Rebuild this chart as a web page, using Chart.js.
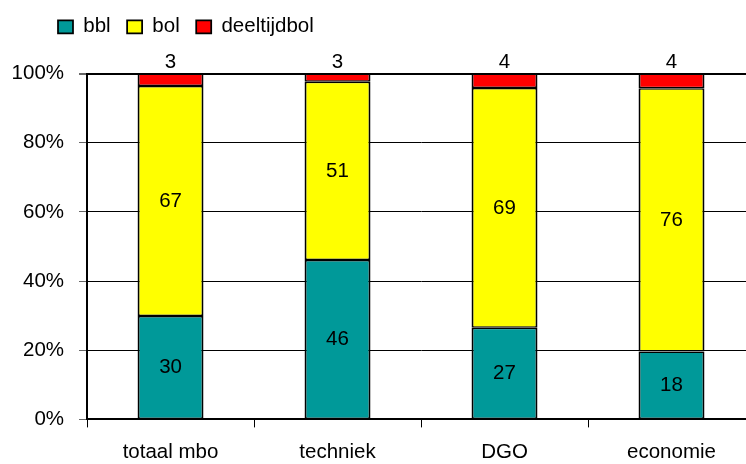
<!DOCTYPE html>
<html>
<head>
<meta charset="utf-8">
<script src="https://cdn.jsdelivr.net/npm/chart.js@4.4.1/dist/chart.umd.min.js"></script>
<style>
  html, body { margin: 0; padding: 0; background: #fff; }
  #wrap { width: 746px; height: 464px; overflow: hidden; }
</style>
</head>
<body>
<div id="wrap"><canvas id="c" width="760" height="464"></canvas></div>
<script>
// ---- data ----
const categories = ['totaal mbo', 'techniek', 'DGO', 'economie'];
const seriesNames = ['bbl', 'bol', 'deeltijdbol'];
// share of each bar (percent)
const bblShare  = [29.9, 46.1, 26.5, 19.6];
const bolShare  = [66.5, 51.5, 69.3, 76.1];
const deelShare = [3.6, 2.4, 4.2, 4.3];
// numbers printed on the bars
const bblLabels  = [30, 46, 27, 18];
const bolLabels  = [67, 51, 69, 76];
const deelLabels = [3, 3, 4, 4];
// y axis ticks
const yTicks = [0, 20, 40, 60, 80, 100];

const FONT = '"Liberation Sans", Arial, sans-serif';
const FS = 20.5;
Chart.defaults.font.family = FONT;
Chart.defaults.font.size = FS;
Chart.defaults.color = '#000';

const barBorder = { left: 2, right: 2, top: 1.5, bottom: 1.5 };

const valueLabels = {
  id: 'valueLabels',
  afterDatasetsDraw(chart) {
    const ctx = chart.ctx;
    ctx.save();
    ctx.font = FS + 'px ' + FONT;
    ctx.fillStyle = '#000';
    ctx.textAlign = 'center';
    ctx.textBaseline = 'middle';
    chart.data.datasets.forEach((ds, di) => {
      const meta = chart.getDatasetMeta(di);
      meta.data.forEach((bar, i) => {
        const txt = String(ds.printed[i]);
        if (ds.labelAbove) {
          ctx.fillText(txt, bar.x, bar.y - 11);
        } else {
          ctx.fillText(txt, bar.x, (bar.y + bar.base) / 2);
        }
      });
    });
    ctx.restore();
  }
};

const legendShift = {
  id: 'legendShift',
  afterLayout(chart) {
    const lg = chart.legend;
    if (!lg) return;
    const pad = lg.options.labels.padding;
    const shift = 58 - (lg.left + pad);
    lg.left += shift;
    lg.right += shift;
  }
};

new Chart(document.getElementById('c'), {
  type: 'bar',
  data: {
    labels: categories,
    datasets: [
      { label: seriesNames[0], data: bblShare, printed: bblLabels, backgroundColor: '#009999',
        borderColor: '#000', borderWidth: barBorder, borderSkipped: false },
      { label: seriesNames[1], data: bolShare, printed: bolLabels, backgroundColor: '#FFFF00',
        borderColor: '#000', borderWidth: barBorder, borderSkipped: false },
      { label: seriesNames[2], data: deelShare, printed: deelLabels, labelAbove: true, backgroundColor: '#FF0000',
        borderColor: '#000', borderWidth: barBorder, borderSkipped: false }
    ]
  },
  options: {
    responsive: false,
    animation: false,
    devicePixelRatio: 1,
    layout: { padding: { left: -3.4, right: 5, top: 0, bottom: -13 } },
    datasets: { bar: { categoryPercentage: 1, barPercentage: 0.395 } },
    plugins: {
      tooltip: { enabled: false },
      legend: {
        position: 'top',
        align: 'start',
        labels: {
          boxWidth: 15, boxHeight: 13, padding: 16.5,
          font: { size: FS, family: FONT }, color: '#000'
        }
      },
      title: {
        display: true, text: '', weight: 500, position: 'top',
        font: { size: 1, lineHeight: 1 }, padding: { top: 0, bottom: 25.5 }
      }
    },
    scales: {
      x: {
        stacked: true,
        grid: { display: true, drawOnChartArea: false, drawTicks: true, tickLength: 8, color: '#000', lineWidth: 1, offset: true },
        border: { display: true, color: '#000', width: 2 },
        ticks: { padding: 12.5, font: { size: FS, family: FONT }, color: '#000', maxRotation: 0 }
      },
      y: {
        stacked: true,
        min: 0, max: 100,
        afterBuildTicks(axis) { axis.ticks = yTicks.map(v => ({ value: v })); },
        grid: {
          color: '#000',
          tickColor: '#666',
          lineWidth: (c) => (c.tick && c.tick.value === 100 ? 2 : 1),
          tickLength: 8, drawTicks: true
        },
        border: { display: true, color: '#000', width: 2 },
        ticks: { padding: 15, font: { size: FS, family: FONT }, color: '#000', callback: (v) => v + '%' }
      }
    }
  },
  plugins: [valueLabels, legendShift]
});
</script>
</body>
</html>
